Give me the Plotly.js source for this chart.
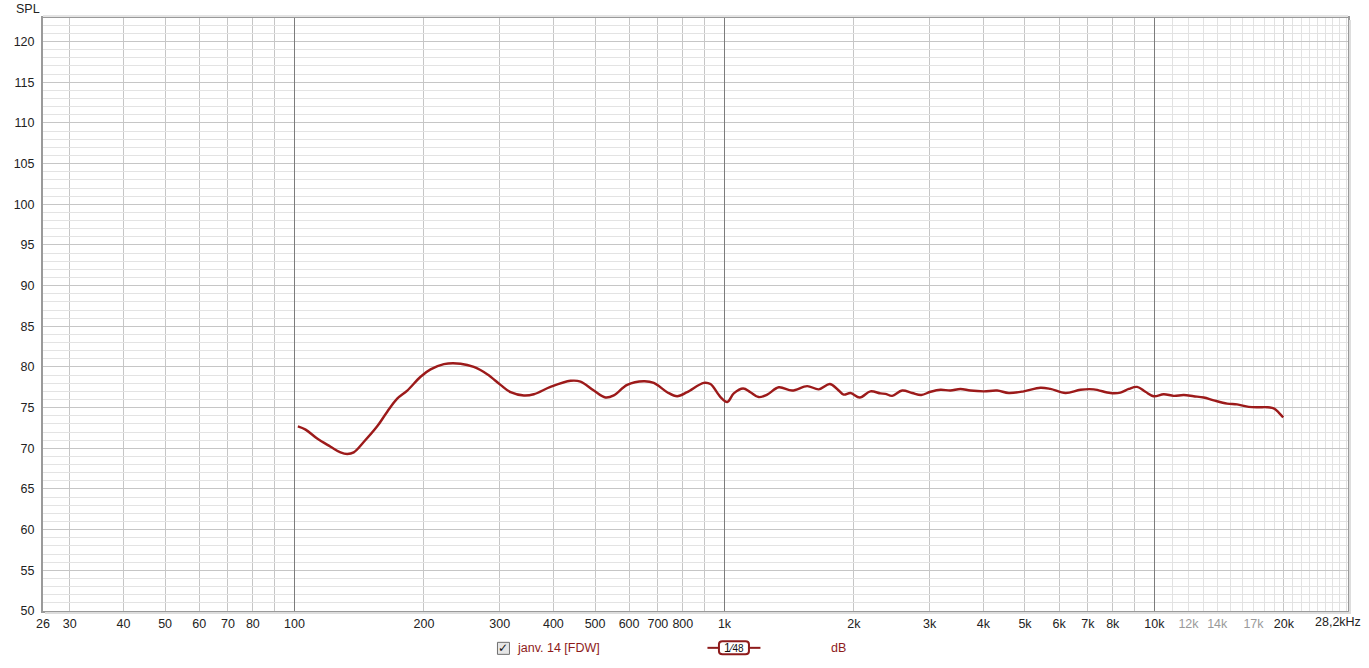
<!DOCTYPE html>
<html>
<head>
<meta charset="utf-8">
<script src="https://cdn.plot.ly/plotly-3.0.1.min.js"></script>
<style>html,body{margin:0;padding:0;background:#fff;}#chart{width:1369px;height:668px;}</style>
</head>
<body>
<div id="chart"></div>
<script>
// Frequency response data (Hz, dB SPL)
var freq = [101.8, 106.1, 112.9, 121.3, 127.9, 132.6, 137.3, 145.0, 155.7, 164.3,
  173.3, 182.9, 196.4, 207.2, 222.5, 243.3, 261.2, 280.6, 301.4, 318.0,
  341.5, 360.2, 393.8, 438.5, 462.6, 496.7, 528.8, 552.8, 593.9, 649.1,
  684.8, 735.8, 776.2, 818.8, 895.0, 927.7, 978.8, 1015, 1051, 1105,
  1149, 1201, 1257, 1338, 1437, 1557, 1657, 1758, 1828, 1894,
  1964, 2064, 2185, 2306, 2368, 2455, 2590, 2733, 2868, 3014,
  3180, 3354, 3538, 3733, 4009, 4306, 4583, 4967, 5430, 5730,
  6210, 6730, 7224, 7902, 8334, 8716, 9116, 9530, 9963, 10510,
  11090, 11700, 12340, 13020, 13740, 14760, 15570, 16570, 17480, 18280,
  18940, 19460, 19930];
var spl = [72.7, 72.3, 71.2, 70.2, 69.5, 69.3, 69.5, 70.8, 72.7, 74.5,
  76.1, 77.1, 78.8, 79.7, 80.35, 80.4, 80.0, 79.1, 77.8, 76.9,
  76.5, 76.65, 77.55, 78.3, 78.2, 77.1, 76.25, 76.5, 77.8, 78.25,
  78.05, 76.9, 76.4, 76.9, 78.05, 77.9, 76.3, 75.7, 76.75, 77.35,
  76.9, 76.3, 76.6, 77.5, 77.1, 77.65, 77.25, 77.9, 77.3, 76.6,
  76.8, 76.25, 77.0, 76.75, 76.7, 76.45, 77.1, 76.8, 76.55, 76.95,
  77.2, 77.1, 77.3, 77.1, 77.0, 77.1, 76.8, 77.0, 77.45, 77.3,
  76.8, 77.2, 77.25, 76.8, 76.85, 77.3, 77.55, 76.95, 76.4, 76.65,
  76.45, 76.55, 76.4, 76.25, 75.9, 75.5, 75.4, 75.1, 75.05, 75.05,
  74.9, 74.4, 73.8];

// Axis ticks
var xTickVals = [26, 30, 40, 50, 60, 70, 80, 100, 200, 300, 400, 500, 600, 700, 800,
  1000, 2000, 3000, 4000, 5000, 6000, 7000, 8000, 10000, 12000, 14000, 17000, 20000];
var xTickText = ['26', '30', '40', '50', '60', '70', '80', '100', '200', '300', '400', '500', '600', '700', '800',
  '1k', '2k', '3k', '4k', '5k', '6k', '7k', '8k', '10k',
  '<span style="color:#9a9a9a">12k</span>', '<span style="color:#9a9a9a">14k</span>',
  '<span style="color:#9a9a9a">17k</span>', '20k'];
var xGridMedium = [30, 40, 50, 60, 70, 80, 90, 200, 300, 400, 500, 600, 700, 800, 900,
  2000, 3000, 4000, 5000, 6000, 7000, 8000, 9000, 20000];
var xGridDecade = [100, 1000, 10000];
var xGridLight = [11000, 12000, 13000, 14000, 15000, 16000, 17000, 18000, 19000,
  21000, 22000, 23000, 24000, 25000, 26000, 27000, 28000];
var yTickVals = [50, 55, 60, 65, 70, 75, 80, 85, 90, 95, 100, 105, 110, 115, 120];
var xMin = 26, xMax = 28200, yMin = 50, yMax = 122.9;

var lineColor = '#9c1a1a';
var legendColor = '#8e1b1b';
var fontFam = '"Liberation Sans", Arial, sans-serif';

var traces = [
  {x: [], y: [], xaxis: 'x2', yaxis: 'y', showlegend: false, hoverinfo: 'skip', type: 'scatter'},
  {x: freq, y: spl, type: 'scatter', mode: 'lines', name: 'janv. 14 [FDW]',
   line: {color: lineColor, width: 2.4, shape: 'spline', smoothing: 1}, showlegend: false}
];

var L = 42.5, R = 1347.6, T = 18.3, B = 610.7;
var W = R - L, H = B - T;
function px(x) { return (x - L) / W; }
function py(y) { return (B - y) / H; }

var layout = {
  width: 1369, height: 668,
  margin: {l: L, r: 1369 - R, t: T, b: 668 - B, pad: 0},
  paper_bgcolor: '#ffffff', plot_bgcolor: '#ffffff',
  showlegend: false,
  font: {family: fontFam, size: 12, color: '#222'},
  xaxis: {
    type: 'log', range: [Math.log10(xMin), Math.log10(xMax)],
    tickmode: 'array', tickvals: xTickVals, ticktext: xTickText,
    showgrid: false, zeroline: false, ticks: '',
    tickfont: {family: fontFam, size: 12.5, color: '#222'},
    ticklabelstandoff: 0,
    showline: true, mirror: true, linecolor: '#9a9a9a', linewidth: 2,
    minor: {tickmode: 'array', tickvals: xGridMedium, showgrid: true, gridcolor: '#c6c6c6', gridwidth: 1, ticks: ''}
  },
  xaxis2: {
    type: 'log', range: [Math.log10(xMin), Math.log10(xMax)], overlaying: 'x',
    tickmode: 'array', tickvals: xGridDecade, showticklabels: false, ticks: '',
    showgrid: true, gridcolor: '#7c7c7c', gridwidth: 1, zeroline: false,
    minor: {tickmode: 'array', tickvals: xGridLight, showgrid: true, gridcolor: '#e2e2e2', gridwidth: 1, ticks: ''}
  },
  yaxis: {
    range: [yMin, yMax], tickmode: 'array', tickvals: yTickVals,
    showgrid: true, gridcolor: '#c6c6c6', gridwidth: 1, zeroline: false, ticks: '',
    tickfont: {family: fontFam, size: 12.5, color: '#222'},
    ticklabelstandoff: 4,
    showline: true, mirror: true, linecolor: '#9a9a9a', linewidth: 2,
    minor: {dtick: 1, showgrid: true, gridcolor: '#e3e3e3', gridwidth: 1, ticks: ''}
  },
  shapes: [
    {type: 'line', xref: 'paper', yref: 'paper', x0: px(R + 2), x1: px(R + 2), y0: py(T + 2), y1: py(B + 2),
     line: {color: '#dddddd', width: 2}},
    {type: 'line', xref: 'paper', yref: 'paper', x0: px(L + 2), x1: px(R + 3), y0: py(B + 2), y1: py(B + 2),
     line: {color: '#dddddd', width: 2}},
    {type: 'line', xref: 'paper', yref: 'paper', x0: px(L), x1: px(R), y0: py(T - 2), y1: py(T - 2),
     line: {color: '#e4e4e4', width: 2}},
    {type: 'rect', xref: 'paper', yref: 'paper', x0: px(497), x1: px(509), y0: py(654), y1: py(642),
     line: {color: '#6e6e6e', width: 1}, fillcolor: '#e6e6e6'},
    {type: 'line', xref: 'paper', yref: 'paper', x0: px(707), x1: px(719), y0: py(647.5), y1: py(647.5),
     line: {color: legendColor, width: 2}},
    {type: 'line', xref: 'paper', yref: 'paper', x0: px(748), x1: px(760), y0: py(647.5), y1: py(647.5),
     line: {color: legendColor, width: 2}},
    {type: 'path', xref: 'paper', yref: 'paper',
     path: 'M' + px(722) + ',' + py(641) + ' L' + px(745) + ',' + py(641) +
       ' Q' + px(748.5) + ',' + py(641) + ' ' + px(748.5) + ',' + py(644) +
       ' L' + px(748.5) + ',' + py(651) +
       ' Q' + px(748.5) + ',' + py(654) + ' ' + px(745) + ',' + py(654) +
       ' L' + px(722) + ',' + py(654) +
       ' Q' + px(718.5) + ',' + py(654) + ' ' + px(718.5) + ',' + py(651) +
       ' L' + px(718.5) + ',' + py(644) +
       ' Q' + px(718.5) + ',' + py(641) + ' ' + px(722) + ',' + py(641) + ' Z',
     line: {color: legendColor, width: 2}, fillcolor: '#ffffff'}
  ],
  annotations: [
    {xref: 'paper', yref: 'paper', x: px(27), y: py(9), text: 'SPL', showarrow: false,
     font: {family: fontFam, size: 12.5, color: '#222'}, xanchor: 'center', yanchor: 'middle'},
    {xref: 'paper', yref: 'paper', x: px(1363), y: py(622), text: '28,2kHz', showarrow: false,
     font: {family: fontFam, size: 12.5, color: '#222'}, xanchor: 'right', yanchor: 'middle'},
    {xref: 'paper', yref: 'paper', x: px(503), y: py(647.5), text: '<b>✓</b>', showarrow: false,
     font: {family: '"DejaVu Sans", sans-serif', size: 12, color: '#111'}, xanchor: 'center', yanchor: 'middle'},
    {xref: 'paper', yref: 'paper', x: px(515), y: py(648), text: 'janv. 14 [FDW]', showarrow: false,
     font: {family: fontFam, size: 12.5, color: legendColor}, xanchor: 'left', yanchor: 'middle'},
    {xref: 'paper', yref: 'paper', x: px(733.5), y: py(648), text: '<span style="font-size:12px">1</span>⁄<span style="font-size:10px">48</span>', showarrow: false,
     font: {family: fontFam, size: 11, color: '#111'}, xanchor: 'center', yanchor: 'middle'},
    {xref: 'paper', yref: 'paper', x: px(838), y: py(648), text: 'dB', showarrow: false,
     font: {family: fontFam, size: 12.5, color: legendColor}, xanchor: 'center', yanchor: 'middle'}
  ]
};

Plotly.newPlot('chart', traces, layout, {displayModeBar: false, staticPlot: true});
</script>
</body>
</html>
